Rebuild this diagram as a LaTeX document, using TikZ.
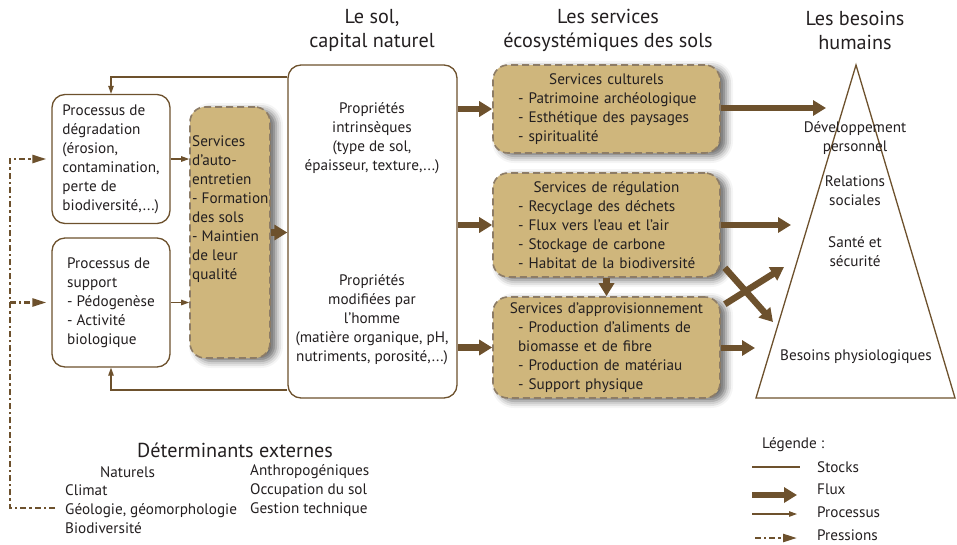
\documentclass[tikz,border=0pt]{standalone}
\usepackage{fontspec}
\setmainfont{PT Sans}
\usetikzlibrary{arrows.meta,shadows.blur,positioning}

\definecolor{brun}{RGB}{109,81,45}
\definecolor{sable}{RGB}{207,182,124}
\definecolor{bordtan}{RGB}{141,124,102}
\definecolor{encre}{RGB}{35,31,32}

\newcommand{\entete}[1]{\makebox[177pt][c]{#1}}
\newcommand{\puce}[1]{\mbox{- #1}}

\tikzset{
  titre/.style={font=\fontsize{20.2}{24}\selectfont, align=center, text=encre, inner sep=0pt},
  texte/.style={font=\fontsize{15.2}{19}\selectfont, text=encre, inner sep=0pt},
  stock/.style={draw=brun, line width=1.3pt, rounded corners=13pt, fill=white},
  servbox/.style={draw=bordtan, line width=1.6pt, dash pattern=on 7pt off 4pt, rounded corners=15pt, fill=sable,
      blur shadow={shadow xshift=6pt, shadow yshift=-3pt, shadow blur radius=7pt, shadow opacity=60}},
  flux/.style={draw=brun, line width=6.5pt, -{Triangle[length=13pt,width=15pt]}},
  processus/.style={draw=brun, line width=1.1pt, -{Triangle[length=8pt,width=5.5pt]}},
  pression/.style={draw=brun, line width=2.4pt, dash pattern=on 6pt off 3pt on 2.4pt off 3pt},
  pressionfl/.style={pression, -{Triangle[length=14pt,width=8pt]}},
}

\begin{document}
\begin{tikzpicture}[x=1pt,y=-1pt]
\useasboundingbox (0,0) rectangle (957,544);

% titres des colonnes
\node[titre] (t-sol) at (372,30) {Le sol,\\capital naturel};
\node[titre] (t-serv) at (608,30) {Les services\\écosystémiques des sols};
\node[titre] (t-bes) at (855,30) {Les besoins\\humains};

% processus
\node[stock, texte, align=left, minimum width=118pt, minimum height=129pt] (degr) at (111,159)
  {Processus de\\dégradation\\(érosion,\\contamination,\\perte de\\biodiversité,...)};
\node[stock, texte, align=left, minimum width=118pt, minimum height=129pt] (supp) at (111,302.5)
  {Processus de\\support\\- Pédogenèse\\- Activité\\biologique};
\node[servbox, minimum width=80pt, minimum height=251pt] (auto) at (230,232.5) {};
\node[texte, align=left, anchor=west] (auto-txt) at (192,209.5)
  {Services\\d’auto-\\entretien\\- Formation\\des sols\\- Maintien\\de leur\\qualité};

% le sol
\node[stock, minimum width=169pt, minimum height=333pt] (sol) at (372.5,231.5) {};
\node[texte, align=center] (sol-intr) at (372,138)
  {Propriétés\\intrinsèques\\(type de sol,\\épaisseur, texture,...)};
\node[texte, align=center] (sol-mod) at (372,320)
  {Propriétés\\modifiées par\\l’homme\\(matière organique, pH,\\nutriments, porosité,...)};

% services
\node[servbox, texte, text width=177pt, inner xsep=25pt, minimum height=88pt, align=left] (cult) at (606.5,109)
  {\entete{Services culturels}\\\puce{Patrimoine archéologique}\\\puce{Esthétique des paysages}\\\puce{spiritualité}};
\node[servbox, texte, text width=177pt, inner xsep=25pt, minimum height=104pt, align=left] (regul) at (606.5,225)
  {\entete{Services de régulation}\\\puce{Recyclage des déchets}\\\puce{Flux vers l’eau et l’air}\\\puce{Stockage de carbone}\\\puce{Habitat de la biodiversité}};
\node[servbox, texte, text width=177pt, inner xsep=25pt, minimum height=101pt, align=left] (appro) at (606.5,347.5)
  {\entete{Services d’approvisionnement}\\\puce{Production d’aliments de}\\\mbox{biomasse et de fibre}\\\puce{Production de matériau}\\\puce{Support physique}};

% pyramide des besoins
\coordinate (sommet) at (856,65);
\coordinate (base-d) at (955,398);
\coordinate (base-g) at (756,398);
\draw[brun, line width=1.3pt] (sommet) -- (base-d) -- (base-g) -- cycle;
\node[texte, align=center] (b-dev) at (855,138) {Développement\\personnel};
\node[texte, align=center] (b-rel) at (855,191) {Relations\\sociales};
\node[texte, align=center] (b-sante) at (855,251.5) {Santé et\\sécurité};
\node[texte] (b-phys) at (856,357) {Besoins physiologiques};

% flux
\draw[flux] (auto.east) -- (sol.west |- auto.east);
\draw[flux] (sol.east |- cult.west) -- (cult.west);
\draw[flux] (sol.east |- regul.west) -- (regul.west);
\draw[flux] (sol.east |- appro.west) -- (appro.west);
\draw[flux] (regul.south) -- (appro.north);
\coordinate (c-dev) at (826,108);
\coordinate (c-rel) at (791,225);
\coordinate (c-phys) at (755,348);
\coordinate (x-a) at (773,322);
\coordinate (x-b) at (784,267);
\draw[flux] (cult.east |- c-dev) -- (c-dev);
\draw[flux] (regul.east |- c-rel) -- (c-rel);
\draw[flux] (appro.east |- c-phys) -- (c-phys);
\draw[flux] ([xshift=4pt,yshift=10pt]regul.south east) -- (x-a);
\draw[flux] ([xshift=4pt,yshift=-8pt]appro.north east) -- (x-b);

% processus
\coordinate (proc-h) at (sol.west |- 0,77);
\coordinate (proc-b) at (sol.west |- 0,390);
\draw[processus] (degr.east) -- (auto.west |- degr.east);
\draw[processus] (supp.east) -- (auto.west |- supp.east);
\draw[processus] (proc-h) -| (degr.north);
\draw[processus] (proc-b) -| (supp.south);

% pressions
\coordinate (ext) at (55,508);
\coordinate (p-coin) at (10,508);
\draw[pressionfl, shorten >=5pt] (ext) -- (p-coin) |- (degr.west);
\draw[pressionfl, shorten >=5pt] (p-coin |- supp.west) -- (supp.west);

% determinants externes
\node[titre] (det) at (235,450) {Déterminants externes};
\node[texte] (det-nat) at (127.5,472) {Naturels};
\node[texte, align=left, anchor=west] (det-nat-l) at (65,509.5) {Climat\\Géologie, géomorphologie\\Biodiversité};
\node[texte, align=left, anchor=west] (det-anth) at (250,490.5) {Anthropogéniques\\Occupation du sol\\Gestion technique};

% legende
\node[texte, anchor=west] (leg) at (762,445) {Légende :};
\node[texte, anchor=west] (leg-stock) at (817,467) {Stocks};
\node[texte, anchor=west] (leg-flux) at (817,489) {Flux};
\node[texte, anchor=west] (leg-proc) at (817,512) {Processus};
\node[texte, anchor=west] (leg-pres) at (817,535) {Pressions};
\draw[brun, line width=2.5pt] ([xshift=-65pt]leg-stock.west) -- ([xshift=-17pt]leg-stock.west);
\draw[flux] ([xshift=-65pt,yshift=-6pt]leg-flux.west) -- ([xshift=-20pt,yshift=-6pt]leg-flux.west);
\draw[processus] ([xshift=-65pt,yshift=-2pt]leg-proc.west) -- ([xshift=-20pt,yshift=-2pt]leg-proc.west);
\draw[pressionfl] ([xshift=-62pt,yshift=-3pt]leg-pres.west) -- ([xshift=-20pt,yshift=-3pt]leg-pres.west);
\end{tikzpicture}
\end{document}
